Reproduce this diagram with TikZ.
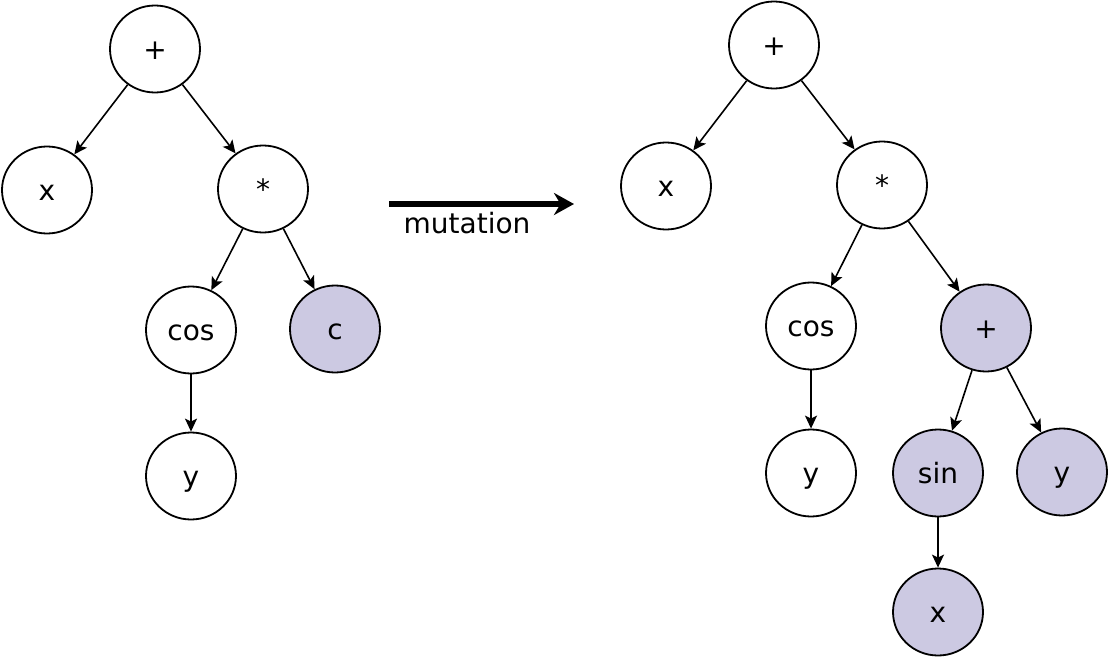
\documentclass[tikz,border=0pt]{standalone}
\usepackage{fontspec}
\setmainfont{DejaVu Sans}
\usetikzlibrary{shapes.geometric,arrows.meta}
\definecolor{mutfill}{RGB}{204,201,226}
\tikzset{
  tnode/.style={ellipse, draw=black, line width=1.8pt, minimum width=90pt, minimum height=87pt, inner sep=0pt, fill=white, font=\fontsize{28}{32}\selectfont, text height=21pt, text depth=0pt},
  newnode/.style={tnode, fill=mutfill},
  edge/.style={line width=1.6pt, -{Stealth[length=13pt,width=12pt,inset=3pt]}},
  bigarrow/.style={line width=5.5pt, -{Stealth[length=20pt,width=22pt]}}
}
\begin{document}
\begin{tikzpicture}[x=1pt,y=-1pt]
\useasboundingbox (0,0) rectangle (1110,658);
% left tree
\node[tnode] (lplus) at (155,49) {+};
\node[tnode] (lx) at (47,190) {x};
\node[tnode] (lmul) at (263,189) {*};
\node[tnode] (lcos) at (191,330) {cos};
\node[newnode] (lc) at (335,329) {c};
\node[tnode] (ly) at (191,476) {y};
\draw[edge] (lplus) -- (lx);
\draw[edge] (lplus) -- (lmul);
\draw[edge] (lmul) -- (lcos);
\draw[edge] (lmul) -- (lc);
\draw[edge] (lcos) -- (ly);
% mutation arrow
\coordinate (astart) at (389,204);
\coordinate (aend) at (574,204);
\draw[bigarrow] (astart) -- (aend);
\node[font=\fontsize{28}{32}\selectfont] (mut) at (467,223) {mutation};
% right tree
\node[tnode] (rplus) at (774,45) {+};
\node[tnode] (rx) at (666,186) {x};
\node[tnode] (rmul) at (882,185) {*};
\node[tnode] (rcos) at (811,326) {cos};
\node[newnode] (rplus2) at (986,328) {+};
\node[tnode] (ry) at (811,473) {y};
\node[newnode] (rsin) at (938,473) {sin};
\node[newnode] (ry2) at (1062,472) {y};
\node[newnode] (rx2) at (938,612) {x};
\draw[edge] (rplus) -- (rx);
\draw[edge] (rplus) -- (rmul);
\draw[edge] (rmul) -- (rcos);
\draw[edge] (rmul) -- (rplus2);
\draw[edge] (rcos) -- (ry);
\draw[edge] (rplus2) -- (rsin);
\draw[edge] (rplus2) -- (ry2);
\draw[edge] (rsin) -- (rx2);
\end{tikzpicture}
\end{document}
